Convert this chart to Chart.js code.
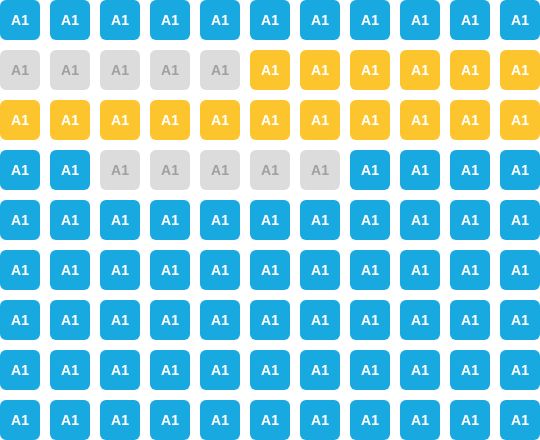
<!DOCTYPE html>
<html>
<head>
<meta charset="utf-8">
<script src="https://cdn.jsdelivr.net/npm/chart.js@4/dist/chart.umd.min.js"></script>
<style>
  html, body { margin: 0; padding: 0; background: #ffffff; }
  #wrap { width: 540px; height: 440px; position: relative; }
</style>
</head>
<body>
<div id="wrap"><canvas id="c"></canvas></div>
<script>
// Grid data: one array per row, status code per column (B = blue, G = grey, Y = yellow)
const columns = [0, 1, 2, 3, 4, 5, 6, 7, 8, 9, 10];
const cellText = 'A1';
const row0 = ['B','B','B','B','B','B','B','B','B','B','B'];
const row1 = ['G','G','G','G','G','Y','Y','Y','Y','Y','Y'];
const row2 = ['Y','Y','Y','Y','Y','Y','Y','Y','Y','Y','Y'];
const row3 = ['B','B','G','G','G','G','G','B','B','B','B'];
const row4 = ['B','B','B','B','B','B','B','B','B','B','B'];
const row5 = ['B','B','B','B','B','B','B','B','B','B','B'];
const row6 = ['B','B','B','B','B','B','B','B','B','B','B'];
const row7 = ['B','B','B','B','B','B','B','B','B','B','B'];
const row8 = ['B','B','B','B','B','B','B','B','B','B','B'];
const rows = [row0, row1, row2, row3, row4, row5, row6, row7, row8];

const fillColors = { B: '#18a9e1', G: '#dcdcdc', Y: '#fcc42d' };
const textColors = { B: '#ffffff', G: '#a0a0a0', Y: '#ffffff' };

const datasets = rows.map((row, r) => ({
  label: 'row' + r,
  data: columns.map(c => ({ x: c, y: [r, r + 0.8] })),
  backgroundColor: row.map(s => fillColors[s]),
  textColors: row.map(s => textColors[s]),
  borderRadius: 6,
  borderSkipped: false,
  borderWidth: 0,
  grouped: false,
  categoryPercentage: 1,
  barPercentage: 0.8
}));

const labelPlugin = {
  id: 'cellLabels',
  afterDatasetsDraw(chart) {
    const ctx = chart.ctx;
    ctx.save();
    ctx.font = 'bold 14px "Liberation Sans", Arial, sans-serif';
    ctx.textAlign = 'center';
    ctx.textBaseline = 'middle';
    chart.data.datasets.forEach((ds, di) => {
      const meta = chart.getDatasetMeta(di);
      meta.data.forEach((el, i) => {
        const p = el.getProps(['x', 'y', 'base'], true);
        ctx.fillStyle = ds.textColors[i];
        ctx.fillText(cellText, p.x, (p.y + p.base) / 2 + 1);
      });
    });
    ctx.restore();
  }
};

new Chart(document.getElementById('c'), {
  type: 'bar',
  data: { datasets },
  options: {
    responsive: true,
    maintainAspectRatio: false,
    animation: false,
    layout: { padding: 0 },
    plugins: { legend: { display: false }, tooltip: { enabled: false } },
    scales: {
      x: { type: 'linear', min: -0.4, max: 10.4, display: false, offset: false },
      y: { type: 'linear', min: 0, max: 8.8, reverse: true, display: false }
    }
  },
  plugins: [labelPlugin]
});
</script>
</body>
</html>
